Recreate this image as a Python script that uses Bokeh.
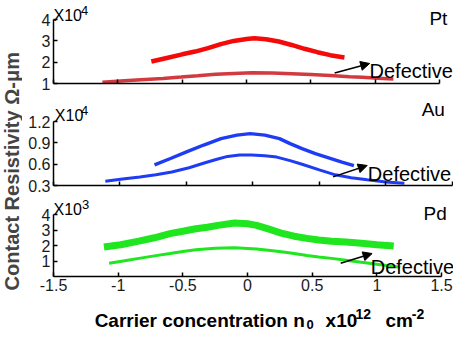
from bokeh.plotting import figure
from bokeh.layouts import row, column
from bokeh.models import Range1d, FixedTicker, Label, Arrow, NormalHead
from bokeh.embed import file_html
from bokeh.resources import INLINE

# ---------------- data ----------------
x_ticks = [-1.5, -1.0, -0.5, 0.0, 0.5, 1.0, 1.5]
x_tick_labels = ["-1.5", "-1", "-0.5", "0", "0.5", "1", "1.5"]

pt_ticks = [1, 2, 3, 4]
pt_tick_labels = ["1", "2", "3", "4"]
au_ticks = [0.3, 0.6, 0.9, 1.2]
au_tick_labels = ["0.3", "0.6", "0.9", "1.2"]
pd_ticks = [1, 2, 3, 4]
pd_tick_labels = ["1", "2", "3", "4"]

pt_x = [-0.74, -0.62, -0.50, -0.40, -0.30, -0.20, -0.10, 0.00, 0.06, 0.15, 0.25, 0.35, 0.45, 0.55, 0.65, 0.76]
pt_y = [2.03, 2.20, 2.37, 2.50, 2.66, 2.85, 3.00, 3.09, 3.12, 3.08, 2.97, 2.81, 2.63, 2.47, 2.33, 2.22]
pt_def_x = [-1.12, -0.95, -0.82, -0.65, -0.51, -0.38, -0.24, -0.10, 0.04, 0.20, 0.35, 0.50, 0.65, 0.80, 0.90, 1.02, 1.14]
pt_def_y = [1.06, 1.13, 1.18, 1.24, 1.30, 1.36, 1.43, 1.47, 1.50, 1.49, 1.46, 1.42, 1.37, 1.32, 1.29, 1.25, 1.21]

au_x = [-0.74, -0.62, -0.49, -0.37, -0.24, -0.12, -0.02, 0.09, 0.20, 0.28, 0.37, 0.47, 0.57, 0.67, 0.76]
au_y = [0.59, 0.68, 0.78, 0.87, 0.96, 1.01, 1.03, 1.01, 0.96, 0.89, 0.82, 0.75, 0.69, 0.63, 0.58]
au_def_x = [-1.11, -0.98, -0.85, -0.73, -0.61, -0.48, -0.36, -0.27, -0.19, -0.10, -0.01, 0.09, 0.18, 0.28, 0.37, 0.50, 0.62, 0.74, 0.86, 1.00, 1.14]
au_def_y = [0.36, 0.39, 0.42, 0.45, 0.49, 0.55, 0.62, 0.67, 0.71, 0.73, 0.73, 0.72, 0.70, 0.65, 0.60, 0.52, 0.45, 0.41, 0.38, 0.35, 0.33]

pd_x = [-1.11, -0.98, -0.84, -0.72, -0.60, -0.50, -0.40, -0.31, -0.23, -0.10, 0.00, 0.07, 0.16, 0.26, 0.36, 0.46, 0.55, 0.65, 0.76, 0.88, 1.00, 1.13]
pd_y = [1.90, 2.05, 2.28, 2.50, 2.77, 2.92, 3.08, 3.18, 3.30, 3.45, 3.40, 3.30, 3.07, 2.80, 2.60, 2.46, 2.36, 2.28, 2.22, 2.15, 2.05, 1.97]
pd_def_x = [-1.07, -0.95, -0.84, -0.72, -0.60, -0.50, -0.40, -0.25, -0.10, 0.07, 0.16, 0.26, 0.36, 0.46, 0.55, 0.65, 0.76, 0.88, 1.03, 1.18]
pd_def_y = [0.86, 1.02, 1.17, 1.33, 1.48, 1.61, 1.72, 1.82, 1.85, 1.78, 1.70, 1.60, 1.48, 1.35, 1.26, 1.17, 1.05, 0.92, 0.76, 0.60]

# ---------------- styling / layout ----------------
FONT = "Liberation Sans"
TICK_FS = "16px"
RED = "#f50a0a"
RED_DEF = "#d23a40"
BLUE = "#1f3cf5"
GREEN = "#1fe61f"

PAGE_W, PAGE_H = 453, 329
REF_W, REF_H = 461, 345
YLAB_W = 22
COL_W = PAGE_W - YLAB_W
KX = (PAGE_W - YLAB_W) / (REF_W - 20)
KY = PAGE_H / REF_H


def cx(X):  # reference x pixel -> column pixel
    return (X - 20) * KX


def py(Y):  # reference y pixel -> page pixel
    return Y * KY


PX_PER_X = 408 * KX / 3.0


def make_panel(height, axis_X, yvals, ytpx, yt, ytl, show_x, bottom):
    bl = int(round(cx(axis_X)))
    frame_h = height - bottom
    unit = abs(py(ytpx[1]) - py(ytpx[0])) / (yvals[1] - yvals[0])
    y0 = yvals[0]
    y_end = y0 + frame_h / unit
    x_end = -1.5 + (COL_W - bl) / PX_PER_X
    p = figure(width=COL_W, height=height, x_range=Range1d(-1.5, x_end),
               y_range=Range1d(y0, y_end), title=None,
               output_backend="svg", toolbar_location=None,
               min_border_left=bl, min_border_right=0,
               min_border_top=0, min_border_bottom=bottom)
    p.outline_line_color = None
    p.xgrid.visible = False
    p.ygrid.visible = False
    for ax in (p.xaxis[0], p.yaxis[0]):
        ax.axis_line_color = "black"
        ax.axis_line_width = 1.5
        ax.major_tick_line_color = "black"
        ax.major_tick_line_width = 1.5
        ax.major_tick_in = 4
        ax.major_tick_out = 0
        ax.minor_tick_line_color = None
        ax.major_label_text_font = FONT
        ax.major_label_text_font_size = TICK_FS
        ax.major_label_text_color = "#1a1a1a"
        ax.major_label_standoff = 3
    xa = p.xaxis[0]
    xa.ticker = FixedTicker(ticks=x_ticks)
    xa.bounds = (-1.5, 1.5)
    if show_x:
        xa.major_label_overrides = dict(zip(x_ticks, x_tick_labels))
        xa.major_label_standoff = 2
    else:
        xa.major_label_overrides = {t: "" for t in x_ticks}
        xa.major_label_text_font_size = "0px"
        xa.major_label_standoff = 0
    ya = p.yaxis[0]
    ya.ticker = FixedTicker(ticks=yt)
    ya.major_label_overrides = dict(zip(yt, ytl))
    ya.bounds = (y0, yt[-1])
    return p


def add_text(p, x, y, text, size, bold=False, align="left", color="black"):
    p.add_layout(Label(x=x, y=y, text=text, text_font=FONT, text_font_size=size,
                       text_font_style="bold" if bold else "normal",
                       text_align=align, text_baseline="alphabetic",
                       text_color=color))


def add_arrow(p, xs, ys, xe, ye):
    p.add_layout(Arrow(end=NormalHead(size=9, fill_color="black", line_color="black",
                                      line_width=1),
                       x_start=xs, y_start=ys, x_end=xe, y_end=ye,
                       line_color="black", line_width=1.5))


H1, H2, H3 = 93, 102, 102

# ---- Pt ----  (y axis at X=38; y=1 at Y=89, y=4 at Y=22)
p1 = make_panel(H1, 38, (1, 4), (89, 22), pt_ticks, pt_tick_labels, False, 10)
p1.line(pt_def_x, pt_def_y, line_color=RED_DEF, line_width=3.5)
p1.line(pt_x, pt_y, line_color=RED, line_width=4.5)
add_text(p1, -1.5, 4.18, "X10", "16px")
add_text(p1, -1.287, 4.43, "4", "13px")
add_text(p1, 1.42, 4.07, "Pt", "19px")
add_arrow(p1, 0.684, 1.49, 0.956, 1.94)
add_text(p1, 0.955, 1.58, "Defective", "20px")

# ---- Au ----  (y axis at X=52; 0.3 at Y=199, 1.2 at Y=132)
p2 = make_panel(H2, 52, (0.3, 1.2), (199, 132), au_ticks, au_tick_labels, False, 10)
p2.line(au_def_x, au_def_y, line_color=BLUE, line_width=3)
p2.line(au_x, au_y, line_color=BLUE, line_width=3.4)
add_text(p2, -1.49, 1.28, "X10", "16px")
add_text(p2, -1.294, 1.361, "4", "13px")
add_text(p2, 1.27, 1.37, "Au", "19px")
add_arrow(p2, 0.603, 0.421, 0.86, 0.582)
add_text(p2, 0.865, 0.461, "Defective", "20px")

# ---- Pd ----  (y axis at X=40; 0 at Y=297, 4 at Y=232)
p3 = make_panel(H3, 40, (0, 4), (297, 232), pd_ticks, pd_tick_labels, True, 21)
p3.line(pd_def_x, pd_def_y, line_color=GREEN, line_width=3)
p3.line(pd_x, pd_y, line_color=GREEN, line_width=7)
add_text(p3, -1.5, 4.31, "X10", "16px")
add_text(p3, -1.28, 4.615, "3", "13px")
add_text(p3, 1.36, 4.06, "Pd", "19px")
add_arrow(p3, 0.72, 0.86, 0.963, 1.48)
add_text(p3, 0.952, 0.615, "Defective", "20px")

# ---- x-axis title strip (coordinates: reference x pixels, strip pixels from top) ----
STRIP_H = PAGE_H - H1 - H2 - H3
strip = figure(width=COL_W, height=STRIP_H, x_range=Range1d(20, REF_W),
               y_range=Range1d(STRIP_H, 0), title=None,
               output_backend="svg", toolbar_location=None,
               x_axis_type=None, y_axis_type=None,
               min_border_left=0, min_border_right=0, min_border_top=0, min_border_bottom=0)
strip.outline_line_color = None
strip.xgrid.visible = False
strip.ygrid.visible = False
add_text(strip, 297, 23, "Carrier concentration n", "19px", bold=True, align="right")
add_text(strip, 299, 26.5, "0", "13px", bold=True)
add_text(strip, 320, 23, "x10", "19px", bold=True)
add_text(strip, 353, 16, "12", "14px", bold=True)
add_text(strip, 386, 23, "cm", "19px", bold=True)
add_text(strip, 415, 16, "-2", "14px", bold=True)

# ---- y-axis title strip ----
ylab = figure(width=YLAB_W, height=PAGE_H, x_range=Range1d(0, YLAB_W), y_range=Range1d(PAGE_H, 0),
              title=None, output_backend="svg", toolbar_location=None,
              x_axis_type=None, y_axis_type=None,
              min_border_left=0, min_border_right=0, min_border_top=0, min_border_bottom=0)
ylab.outline_line_color = None
ylab.xgrid.visible = False
ylab.ygrid.visible = False
ylab.add_layout(Label(x=YLAB_W / 2, y=py(304), text="Contact Resistivity \u03a9-\u03bcm",
                      text_font=FONT, text_font_size="20px", text_font_style="bold",
                      angle=90, angle_units="deg", text_align="left",
                      text_baseline="middle"))

layout = row(ylab, column(p1, p2, p3, strip, spacing=0), spacing=0)

open("out.html", "w").write(file_html(layout, INLINE))
